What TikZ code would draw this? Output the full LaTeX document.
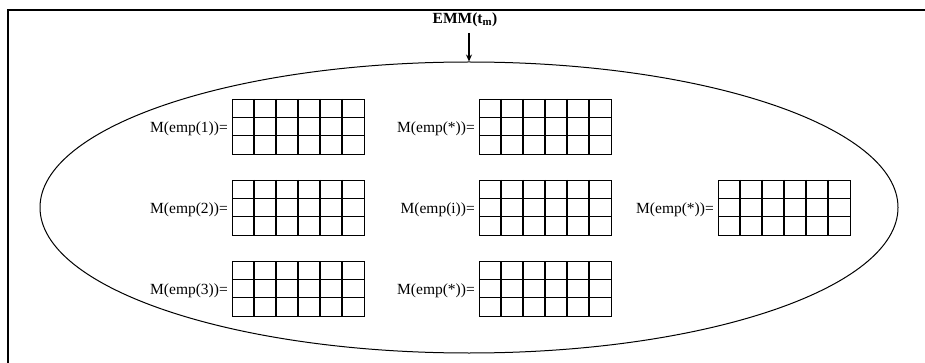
\documentclass[tikz,border=0pt]{standalone}
\usepackage{fontspec}
\setmainfont{Liberation Serif}
\usetikzlibrary{shapes.geometric,arrows.meta}
\newcommand\mgrid[4]{%
  \node[gridbox] (#1) at (#2,#3) {};
  \foreach \i in {1,...,5} {\draw[gridline] (#1.north west) ++(22*\i,0) -- ++(0,55);}
  \foreach \j in {1,2} {\draw[gridline] (#1.north west) ++(0,18.33*\j) -- ++(132,0);}
  \node[lbl] (#1l) at ([xshift=-4pt,yshift=-5.5pt]#1.west) {#4};
}
\begin{document}
\begin{tikzpicture}[x=1pt,y=-1pt,
  gridbox/.style={draw, line width=1.3pt, minimum width=132pt, minimum height=55pt, inner sep=0pt, anchor=north west},
  gridline/.style={line width=1.3pt},
  lbl/.style={font=\fontsize{15.5}{17}\selectfont, anchor=base east, inner sep=0pt},
  frame/.style={line width=2pt},
  ell/.style={draw, ellipse, line width=1pt, minimum width=858pt, minimum height=291pt, inner sep=0pt},
  title/.style={font=\bfseries\fontsize{15.5}{17}\selectfont, inner sep=1pt}]
\useasboundingbox (0,0) rectangle (925,363);
\draw[frame] (8,363) -- (8,10) -- (925,10);
\node[ell] (ell) at (469,207.5) {};
\node[title] (emm) at (465,20) {EMM(t\textsubscript{m})};
\coordinate (arrtop) at (469,33);
\draw[line width=1.2pt, -{Stealth[length=7pt,width=6pt]}] (arrtop) -- (ell.north);
\mgrid{g11}{232}{99}{M(emp(1))=}
\mgrid{g21}{232}{180}{M(emp(2))=}
\mgrid{g31}{232}{261}{M(emp(3))=}
\mgrid{g12}{479}{99}{M(emp(*))=}
\mgrid{g22}{479}{180}{M(emp(i))=}
\mgrid{g32}{479}{261}{M(emp(*))=}
\mgrid{g23}{718}{180}{M(emp(*))=}
\end{tikzpicture}
\end{document}
